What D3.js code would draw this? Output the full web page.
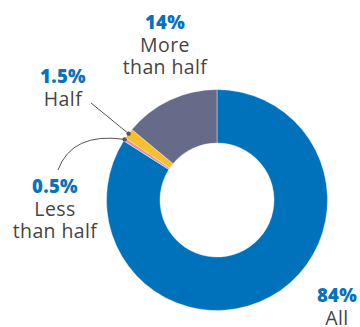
<!DOCTYPE html>
<html>
<head>
<meta charset="utf-8">
<script src="https://cdn.jsdelivr.net/npm/d3@7"></script>
<style>
  body { margin: 0; background: #fff; }
  svg text { font-family: 'Open Sans', sans-serif; }
</style>
</head>
<body>
<div id="chart"></div>
<script>
// Data
const categories = ["All", "Less than half", "Half", "More than half"];
const values = [84, 0.5, 1.5, 14];
const valueLabels = ["84%", "0.5%", "1.5%", "14%"];
const colors = ["#0071bb", "#f0928f", "#f6bf2c", "#676b8a"];

const width = 360, height = 327;
const cx = 217, cy = 200;
const outerR = 110.5, innerR = 57;

const svg = d3.select("#chart").append("svg")
    .attr("width", width)
    .attr("height", height);

const g = svg.append("g")
    .attr("transform", `translate(${cx},${cy})`);

const pie = d3.pie().sort(null).value(d => d.value);
const arcs = pie(categories.map((c, i) => ({ name: c, value: values[i], color: colors[i] })));

const arc = d3.arc().innerRadius(innerR).outerRadius(outerR);
const edge = d3.arc().innerRadius(outerR).outerRadius(outerR);

g.selectAll("path.slice")
    .data(arcs)
    .enter().append("path")
    .attr("class", "slice")
    .attr("d", arc)
    .attr("fill", d => d.data.color)
    .attr("stroke", "#fff")
    .attr("stroke-width", 0.4);

// Leader lines for the two small slices
const dotHalf = edge.centroid(arcs[2]);
const dotLess = edge.centroid(arcs[1]);

g.append("path")
    .attr("d", `M${91 - cx},${103 - cy} L${dotHalf[0]},${dotHalf[1]}`)
    .attr("fill", "none")
    .attr("stroke", "#555")
    .attr("stroke-width", 1);

g.append("path")
    .attr("d", `M${58 - cx},${170 - cy} Q${72 - cx},${132 - cy} ${dotLess[0]},${dotLess[1]}`)
    .attr("fill", "none")
    .attr("stroke", "#555")
    .attr("stroke-width", 1);

g.selectAll("circle.dot")
    .data([dotHalf, dotLess])
    .enter().append("circle")
    .attr("class", "dot")
    .attr("cx", d => d[0])
    .attr("cy", d => d[1])
    .attr("r", 2.2)
    .attr("fill", "#555");

// Labels
const labels = [
    { x: 337, y: 302, pct: valueLabels[0], lines: ["All"] },
    { x: 55, y: 193, pct: valueLabels[1], lines: ["Less", "than half"] },
    { x: 63, y: 83, pct: valueLabels[2], lines: ["Half"] },
    { x: 165, y: 29, pct: valueLabels[3], lines: ["More", "than half"] }
];

labels.forEach(l => {
    const t = svg.append("text")
        .attr("x", l.x)
        .attr("y", l.y)
        .attr("text-anchor", "middle");
    t.append("tspan")
        .attr("x", l.x)
        .style("font-size", "18.5px")
        .style("font-weight", "800")
        .style("letter-spacing", "0.3px")
        .style("fill", "#0a72ba")
        .text(l.pct);
    l.lines.forEach(line => {
        t.append("tspan")
            .attr("x", l.x)
            .attr("dy", 22.5)
            .style("font-size", "19.5px")
            .style("font-weight", "400")
            .style("letter-spacing", "0.4px")
            .style("fill", "#454545")
            .text(line);
    });
});
</script>
</body>
</html>
